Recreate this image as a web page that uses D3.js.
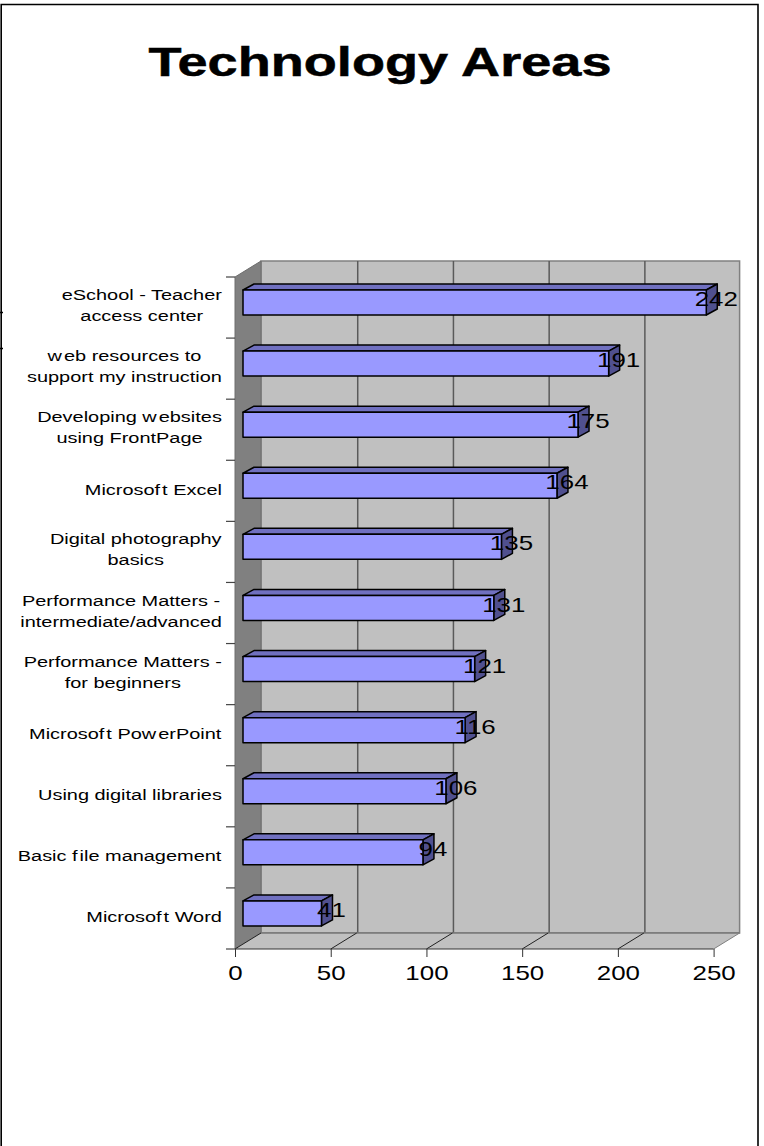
<!DOCTYPE html>
<html><head><meta charset="utf-8">
<script src="https://cdn.jsdelivr.net/npm/d3@7/dist/d3.min.js"></script>
<style>html,body{margin:0;padding:0;background:#fff}svg{display:block}text{font-family:"Liberation Sans",Arial,sans-serif;fill:#000}</style>
</head><body><svg id="c" width="764" height="1146"></svg>
<script>
const categories = [
  "eSchool - Teacher|access center",
  "web resources to|support my instruction",
  "Developing websites|using FrontPage",
  "Microsoft Excel",
  "Digital photography|basics",
  "Performance Matters -|intermediate/advanced",
  "Performance Matters -|for beginners",
  "Microsoft PowerPoint",
  "Using digital libraries",
  "Basic file management",
  "Microsoft Word"
];
const values = [242, 191, 175, 164, 135, 131, 121, 116, 106, 94, 41];
const xTicks = [0, 50, 100, 150, 200, 250];
const titleText = "Technology Areas";

const svg = d3.select("#c");
const SX_TITLE = 1.32, SX_LABEL = 1.33, SX_NUM = 1.295;
const x = d3.scaleLinear().domain([0, 250]).range([235, 713.6]);
const y = d3.scaleBand().domain(categories).range([277, 949]).paddingInner(0).paddingOuter(0);
const DX = 26, DY = 16;
const [y0, y1] = y.range();
const x0 = x(0), x1 = x(250);
const poly = p => p.map(d => d.join(",")).join(" ");
function stretched(sel, px, py, sx) {
  return sel.attr("transform", `translate(${px},${py}) scale(${sx},1)`);
}

// page frame
svg.append("path").attr("d", `M1.2,1146V4.5H758V1146`).attr("fill", "none").attr("stroke", "#000").attr("stroke-width", 1.6);
svg.append("path").attr("d", `M0,312.5H3M0,348.5H3`).attr("stroke", "#000").attr("stroke-width", 1.5);

// title
stretched(svg.append("text").text(titleText).attr("text-anchor", "middle")
  .attr("font-size", 41).attr("font-weight", "bold").attr("stroke", "#000").attr("stroke-width", 0.5), 380, 76, SX_TITLE);

// walls
svg.append("polygon").attr("points", poly([[x0 + DX, y0 - DY], [x1 + DX, y0 - DY], [x1 + DX, y1 - DY], [x0 + DX, y1 - DY]]))
  .attr("fill", "#c0c0c0").attr("stroke", "#808080").attr("stroke-width", 1.5);
svg.append("polygon").attr("points", poly([[x0, y0], [x0 + DX, y0 - DY], [x0 + DX, y1 - DY], [x0, y1]]))
  .attr("fill", "#808080").attr("stroke", "#6e6e6e").attr("stroke-width", 1);
svg.append("polygon").attr("points", poly([[x0, y1], [x1, y1], [x1 + DX, y1 - DY], [x0 + DX, y1 - DY]]))
  .attr("fill", "#c0c0c0");

// gridlines
svg.append("g").selectAll("line").data(xTicks.slice(1, -1)).join("line")
  .attr("x1", d => x(d) + DX + 1).attr("x2", d => x(d) + DX + 1).attr("y1", y0 - DY).attr("y2", y1 - DY)
  .attr("stroke", "#5a5a5a").attr("stroke-width", 1.5);
svg.append("line").attr("x1", x0 + DX).attr("x2", x1 + DX).attr("y1", y1 - DY).attr("y2", y1 - DY)
  .attr("stroke", "#777").attr("stroke-width", 1.5);
svg.append("g").selectAll("line").data(xTicks).join("line")
  .attr("x1", d => x(d)).attr("x2", d => x(d) + DX).attr("y1", y1).attr("y2", y1 - DY)
  .attr("stroke", d => d === 250 ? "#808080" : "#222").attr("stroke-width", 1);

// axes
const xAxis = d3.axisBottom(x).tickValues(xTicks).tickSize(8).tickFormat(d3.format("d"));
const gx = svg.append("g").attr("transform", `translate(0,${y1})`).call(xAxis);
gx.select(".domain").attr("stroke", "#333").attr("stroke-width", 1.2).attr("d", `M${x0},0H${x1}`);
gx.selectAll(".tick line").attr("stroke", "#333");
gx.selectAll(".tick text").each(function () {
  d3.select(this).attr("y", null).attr("dy", null).attr("text-anchor", "middle").attr("font-size", 20);
  stretched(d3.select(this), 0, 31, SX_NUM);
});

svg.append("g").selectAll("line").data([...categories.map(c => y(c)), y1]).join("line")
  .attr("x1", x0 - 9).attr("x2", x0).attr("y1", d => d).attr("y2", d => d)
  .attr("stroke", "#444").attr("stroke-width", 1.2);

// category labels
const RIGHT = 222, LH = 21;
const g = svg.append("g");
categories.forEach(cat => {
  const lines = cat.split("|");
  const cy = y(cat) + y.bandwidth() / 2;
  const nodes = lines.map(ln => {
    const t = g.append("text").attr("font-size", 15).attr("text-anchor", "middle");
    // the original renderer leaves a small gap after some letters
    ln.split(/(?<=w(?=[a-zA-Z])|f(?=[ti]))/).forEach((part, k) => {
      t.append("tspan").attr("dx", k ? 1.5 : 0).text(part);
    });
    return t;
  });
  const w = d3.max(nodes, t => t.node().getBBox().width) * SX_LABEL;
  nodes.forEach((t, i) => {
    const base = cy + 4 + (i - (lines.length - 1) / 2) * LH - (lines.length > 1 ? 1 : 0);
    stretched(t, RIGHT - w / 2, base, SX_LABEL);
  });
});

// bars
const BX = 8, BPAD = 13, BH = 25, BDX = 11, BDY = 6;
const bars = svg.append("g").selectAll("g").data(categories.map((c, i) => ({ c, v: values[i] }))).join("g");
bars.append("polygon").attr("points", d => {
  const t = y(d.c) + BPAD, r = x(d.v) + BX;
  return poly([[x0 + BX, t], [x0 + BX + BDX, t - BDY], [r + BDX, t - BDY], [r, t]]);
}).attr("fill", "#7070c0");
bars.append("polygon").attr("points", d => {
  const t = y(d.c) + BPAD, r = x(d.v) + BX;
  return poly([[r, t], [r + BDX, t - BDY], [r + BDX, t + BH - BDY], [r, t + BH]]);
}).attr("fill", "#50508f");
bars.append("rect").attr("x", x0 + BX).attr("y", d => y(d.c) + BPAD)
  .attr("width", d => x(d.v) - x0).attr("height", BH).attr("fill", "#9999ff");
bars.selectAll("polygon,rect").attr("stroke", "#000").attr("stroke-width", 1.5).attr("stroke-linejoin", "round");

// value labels
bars.append("text").text(d => d.v).attr("text-anchor", "middle").attr("font-size", 20)
  .each(function (d) {
    stretched(d3.select(this), x(d.v) + BX + 10, y(d.c) + y.bandwidth() / 2 - 1.5, SX_NUM);
  });
</script></body></html>
